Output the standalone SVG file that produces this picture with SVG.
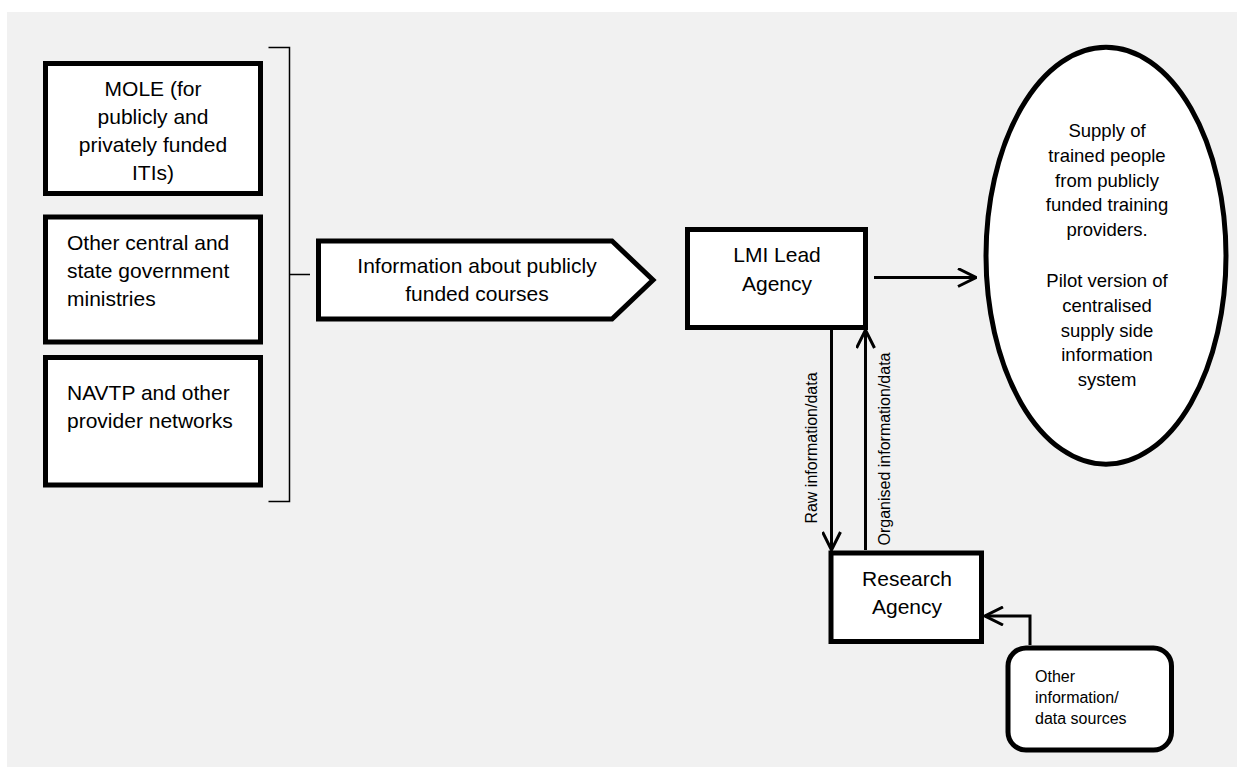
<svg xmlns="http://www.w3.org/2000/svg" width="1237" height="767" viewBox="0 0 1237 767">
<defs>
<style>
.box{fill:#fff;stroke:#000;stroke-width:5}
.t{font-family:"Liberation Sans",Arial,sans-serif;font-size:21px;fill:#000}
.te{font-family:"Liberation Sans",Arial,sans-serif;font-size:18.5px;fill:#000;text-anchor:middle}
.ts{font-family:"Liberation Sans",Arial,sans-serif;font-size:16px;fill:#000}
.c{text-anchor:middle}
.ln{fill:none;stroke:#000;stroke-width:3}
.br{fill:none;stroke:#000;stroke-width:1.5}
</style>
<marker id="ah" viewBox="0 0 12 12" refX="11" refY="6" markerWidth="12" markerHeight="12" markerUnits="userSpaceOnUse" orient="auto">
<path d="M1,0.5 L11,6 L1,11.5" fill="none" stroke="#000" stroke-width="3"/>
</marker>
<marker id="ah2" viewBox="0 0 20 20" refX="19" refY="10" markerWidth="20" markerHeight="20" markerUnits="userSpaceOnUse" orient="auto">
<path d="M1,1 L19,10 L1,19" fill="none" stroke="#000" stroke-width="3"/>
</marker>
</defs>
<rect x="0" y="0" width="1237" height="767" fill="#fff"/>
<rect x="7" y="12" width="1230" height="755" fill="#f1f1f1"/>

<g id="mole">
<rect class="box" x="45.5" y="63.5" width="215" height="130"/>
<text class="t c" x="153" y="96">MOLE (for</text>
<text class="t c" x="153" y="124">publicly and</text>
<text class="t c" x="153" y="152">privately funded</text>
<text class="t c" x="153" y="180">ITIs)</text>
</g>
<g id="ministries">
<rect class="box" x="45.5" y="217" width="215" height="125"/>
<text class="t" x="67" y="250">Other central and</text>
<text class="t" x="67" y="278">state government</text>
<text class="t" x="67" y="306">ministries</text>
</g>
<g id="navtp">
<rect class="box" x="45.5" y="357.5" width="215" height="127.5"/>
<text class="t" x="67" y="400">NAVTP and other</text>
<text class="t" x="67" y="428">provider networks</text>
</g>
<g id="info">
<path class="box" d="M318.5,241 L612,241 L653,280 L612,319 L318.5,319 Z"/>
<text class="t c" x="477" y="273">Information about publicly</text>
<text class="t c" x="477" y="301">funded courses</text>
</g>
<g id="lmi">
<rect class="box" x="687.5" y="229.5" width="178" height="98"/>
<text class="t c" x="777" y="262">LMI Lead</text>
<text class="t c" x="777" y="291">Agency</text>
</g>
<g id="supply">
<ellipse class="box" cx="1106" cy="255.7" rx="120" ry="208.5"/>
<text class="te" x="1107" y="137">Supply of</text>
<text class="te" x="1107" y="162">trained people</text>
<text class="te" x="1107" y="186.5">from publicly</text>
<text class="te" x="1107" y="211">funded training</text>
<text class="te" x="1107" y="235.5">providers.</text>
<text class="te" x="1107" y="287">Pilot version of</text>
<text class="te" x="1107" y="312">centralised</text>
<text class="te" x="1107" y="336.5">supply side</text>
<text class="te" x="1107" y="361">information</text>
<text class="te" x="1107" y="385.5">system</text>
</g>
<g id="research">
<rect class="box" x="831" y="553" width="150.5" height="88.5"/>
<text class="t c" x="907" y="586">Research</text>
<text class="t c" x="907" y="614">Agency</text>
</g>
<g id="other">
<rect class="box" x="1008" y="648" width="163.5" height="102" rx="18"/>
<text class="ts" x="1035" y="682">Other</text>
<text class="ts" x="1035" y="703">information/</text>
<text class="ts" x="1035" y="723.5">data sources</text>
</g>

<g id="connectors">
<path class="br" d="M268.5,47.5 H289.5 V501.5 H268.5 M289.5,274.5 H310"/>
<line class="ln" x1="874" y1="277.5" x2="976" y2="277.5" marker-end="url(#ah2)"/>
<line class="ln" x1="831.5" y1="330" x2="831.5" y2="550" marker-end="url(#ah2)"/>
<line class="ln" x1="865.5" y1="550" x2="865.5" y2="330" marker-end="url(#ah2)"/>
<path class="ln" d="M1030,645 V616 H985" marker-end="url(#ah2)"/>
<text class="ts c" transform="translate(816.5,448) rotate(-90)">Raw information/data</text>
<text class="ts c" transform="translate(890,449) rotate(-90)">Organised information/data</text>
</g>
</svg>
